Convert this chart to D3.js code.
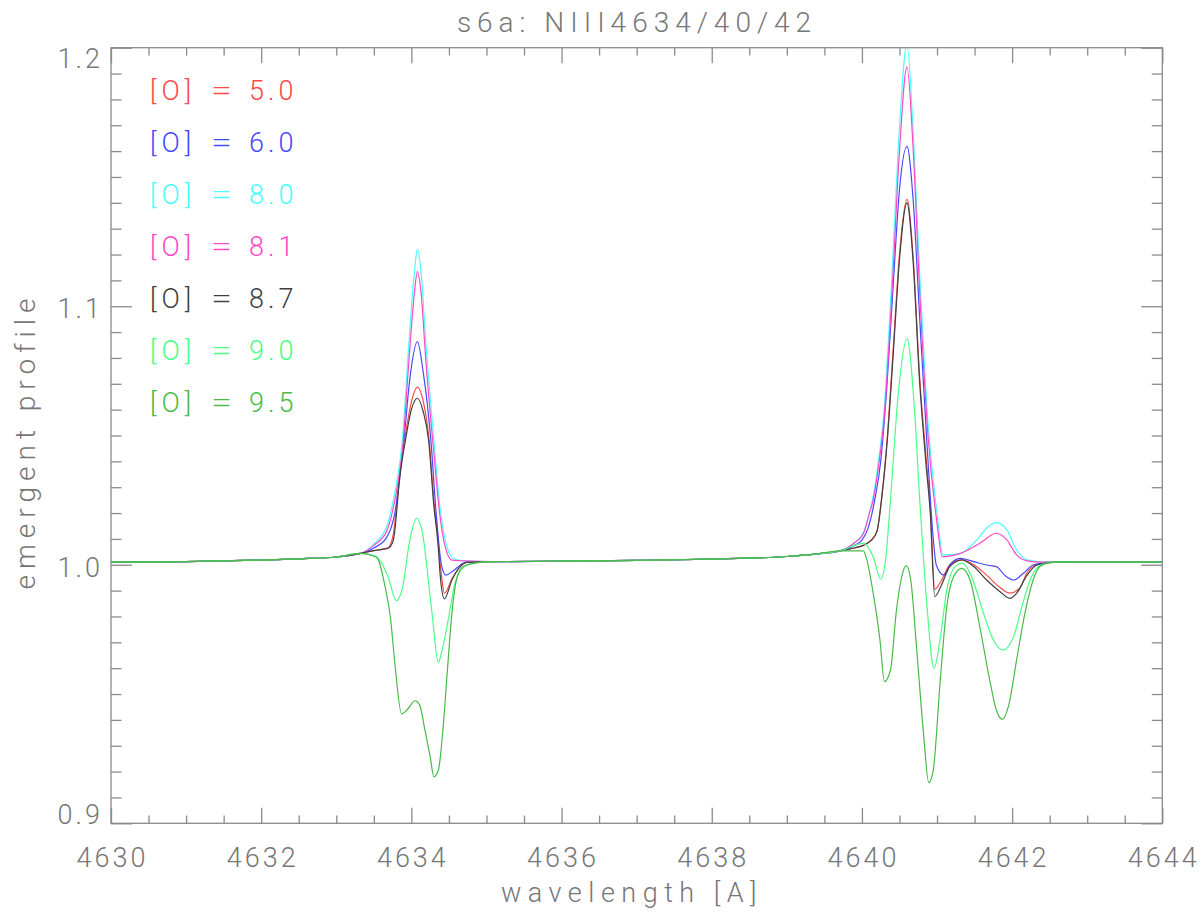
<!DOCTYPE html>
<html>
<head>
<meta charset="utf-8">
<script src="https://cdn.jsdelivr.net/npm/d3@7"></script>
<style>
  html, body { margin: 0; padding: 0; background: #fff; }
  svg text { font-family: Roboto, "Open Sans", sans-serif; font-weight: 300; fill: #777; }
</style>
</head>
<body>
<svg id="chart" width="1200" height="915"></svg>
<script>
// ---- data ----
const title = "s6a: NIII4634/40/42";
const xLabel = "wavelength [A]";
const yLabel = "emergent profile";
const xDomain = [4630, 4644];
const yDomain = [0.9, 1.2];
const xTickValues = [4630, 4632, 4634, 4636, 4638, 4640, 4642, 4644];
const yTickValues = [0.9, 1.0, 1.1, 1.2];
const legendLabels = ["5.0", "6.0", "8.0", "8.1", "8.7", "9.0", "9.5"];
const seriesColors = ["#ff4848", "#4848ff", "#48ffff", "#ff48c8", "#404040", "#48ff88", "#48bb48"];

const wingLeft = [[4630,1.001],[4631,1.0012],[4632,1.0018],[4632.5,1.0023],[4633,1.003],[4633.32,1.0044]];
const wingMid = [[4635.05,1.0012],[4636,1.0014],[4637,1.0017],[4638,1.0022],[4639,1.0032],[4639.4,1.0042],[4639.71,1.0054]];
const wingRight = [[4643,1.001],[4644,1.001]];

// [O] = 5.0
const line1_50 = [[4633.5,1.0055],[4633.69,1.0066],[4633.76,1.012],[4633.85,1.037],[4633.93,1.052],[4634.0,1.063],[4634.08,1.0687],[4634.16,1.063],[4634.23,1.05],[4634.30,1.025],[4634.35,1.011],[4634.40,0.996],[4634.44,0.989],[4634.54,0.9945],[4634.65,0.9993],[4634.74,1.0009]];
const line2_50 = [[4639.9,1.0065],[4640.02,1.0075],[4640.12,1.0095],[4640.2,1.013],[4640.26,1.025],[4640.34,1.05],[4640.42,1.085],[4640.5,1.12],[4640.6,1.1413],[4640.68,1.12],[4640.77,1.072],[4640.85,1.043],[4640.91,1.022],[4640.97,0.9905],[4641.06,0.994],[4641.17,1.0],[4641.33,1.0019],[4641.49,1.0],[4641.66,0.996],[4641.84,0.9912],[4641.97,0.989],[4642.10,0.9909],[4642.2,0.997],[4642.33,1.0],[4642.5,1.0008],[4642.64,1.0011]];
// [O] = 6.0
const line1_60 = [[4633.5,1.0065],[4633.67,1.0105],[4633.78,1.02],[4633.9,1.048],[4633.98,1.072],[4634.08,1.0863],[4634.16,1.074],[4634.26,1.048],[4634.33,1.02],[4634.40,1.0],[4634.46,0.996],[4634.55,0.9975],[4634.69,1.0006],[4634.8,1.0012]];
const line2_60 = [[4639.9,1.0075],[4640.0,1.0095],[4640.08,1.014],[4640.17,1.025],[4640.25,1.04],[4640.33,1.068],[4640.42,1.11],[4640.5,1.145],[4640.6,1.1618],[4640.68,1.142],[4640.77,1.095],[4640.87,1.045],[4640.95,1.01],[4640.99,0.9999],[4641.09,0.996],[4641.19,1.0006],[4641.31,1.0025],[4641.49,1.0012],[4641.66,0.9999],[4641.79,0.9993],[4641.90,0.996],[4642.02,0.9941],[4642.15,0.9967],[4642.28,0.9999],[4642.45,1.0008],[4642.64,1.0011]];
// [O] = 8.0
const line1_80 = [[4633.5,1.008],[4633.67,1.0147],[4633.78,1.028],[4633.88,1.048],[4633.97,1.087],[4634.04,1.113],[4634.08,1.122],[4634.13,1.113],[4634.19,1.087],[4634.30,1.048],[4634.38,1.0225],[4634.45,1.0096],[4634.56,1.0024],[4634.7,1.0015]];
const line2_80 = [[4639.9,1.0085],[4640.02,1.0125],[4640.08,1.018],[4640.14,1.025],[4640.22,1.04],[4640.29,1.058],[4640.40,1.112],[4640.5,1.169],[4640.6,1.2015],[4640.68,1.169],[4640.77,1.112],[4640.88,1.055],[4641.0,1.02],[4641.08,1.0038],[4641.31,1.0044],[4641.53,1.0096],[4641.68,1.0147],[4641.79,1.0163],[4641.93,1.0135],[4642.06,1.0057],[4642.2,1.0019],[4642.4,1.0011],[4642.64,1.0011]];
// [O] = 8.1
const line1_81 = [[4633.5,1.0075],[4633.67,1.013],[4633.78,1.025],[4633.88,1.044],[4633.97,1.08],[4634.04,1.105],[4634.08,1.1134],[4634.13,1.105],[4634.19,1.08],[4634.30,1.043],[4634.38,1.019],[4634.45,1.007],[4634.54,1.0018],[4634.7,1.0015]];
const line2_81 = [[4639.9,1.0085],[4640.02,1.012],[4640.1,1.02],[4640.15,1.025],[4640.22,1.038],[4640.29,1.055],[4640.40,1.105],[4640.5,1.16],[4640.6,1.1926],[4640.68,1.162],[4640.77,1.105],[4640.88,1.05],[4641.0,1.016],[4641.07,1.0031],[4641.31,1.0044],[4641.57,1.0083],[4641.79,1.0122],[4641.93,1.0096],[4642.06,1.0038],[4642.2,1.0015],[4642.4,1.001],[4642.64,1.0011]];
// [O] = 8.7
const line1_87 = [[4633.5,1.0055],[4633.69,1.0064],[4633.76,1.0096],[4633.85,1.035],[4633.92,1.048],[4634.0,1.06],[4634.08,1.0644],[4634.16,1.059],[4634.23,1.048],[4634.30,1.0225],[4634.35,1.0096],[4634.39,0.994],[4634.44,0.9868],[4634.54,0.9941],[4634.65,0.9993],[4634.74,1.0009]];
const line2_87 = [[4639.9,1.0065],[4640.02,1.0075],[4640.12,1.0093],[4640.2,1.0128],[4640.26,1.025],[4640.34,1.049],[4640.42,1.083],[4640.5,1.118],[4640.6,1.140],[4640.68,1.118],[4640.77,1.07],[4640.85,1.04],[4640.91,1.02],[4640.97,0.9877],[4641.06,0.9922],[4641.17,0.9993],[4641.33,1.0019],[4641.49,0.9993],[4641.66,0.9941],[4641.84,0.9896],[4641.97,0.987],[4642.06,0.989],[4642.20,0.996],[4642.33,0.9999],[4642.5,1.0008],[4642.64,1.0011]];
// [O] = 9.0
const line1_90 = [[4633.52,1.0034],[4633.56,1.0025],[4633.69,0.9954],[4633.80,0.9861],[4633.88,0.9909],[4633.98,1.0096],[4634.07,1.018],[4634.14,1.0135],[4634.27,0.9825],[4634.36,0.9621],[4634.40,0.9658],[4634.49,0.9786],[4634.58,0.9928],[4634.67,0.9983],[4634.78,1.0002]];
const line2_90 = [[4640.02,1.0083],[4640.15,1.0031],[4640.25,0.9945],[4640.31,1.0006],[4640.38,1.025],[4640.48,1.065],[4640.6,1.0875],[4640.70,1.06],[4640.77,1.025],[4640.86,0.9864],[4640.96,0.960],[4641.04,0.9709],[4641.13,0.9903],[4641.24,0.9993],[4641.34,1.0006],[4641.46,0.9954],[4641.62,0.9812],[4641.75,0.9709],[4641.88,0.967],[4642.02,0.9722],[4642.13,0.9838],[4642.24,0.9941],[4642.35,0.9993],[4642.5,1.0008],[4642.64,1.0011]];
// [O] = 9.5
const line1_95 = [[4633.52,1.0031],[4633.56,1.0019],[4633.65,0.9915],[4633.72,0.9799],[4633.78,0.9619],[4633.87,0.9423],[4633.94,0.9438],[4634.05,0.9474],[4634.11,0.9458],[4634.18,0.9361],[4634.25,0.9258],[4634.30,0.918],[4634.36,0.9206],[4634.42,0.9361],[4634.48,0.9593],[4634.54,0.9812],[4634.60,0.9941],[4634.69,0.9993],[4634.83,1.0006]];
const line2_95 = [[4640.02,1.0054],[4640.06,1.0025],[4640.15,0.989],[4640.24,0.9709],[4640.30,0.9548],[4640.38,0.9593],[4640.46,0.9825],[4640.53,0.9954],[4640.59,0.9997],[4640.65,0.9941],[4640.73,0.967],[4640.82,0.9348],[4640.89,0.9157],[4640.95,0.9206],[4641.04,0.9542],[4641.13,0.9838],[4641.22,0.9954],[4641.33,0.9986],[4641.44,0.9941],[4641.57,0.976],[4641.71,0.9542],[4641.79,0.9438],[4641.87,0.9402],[4641.95,0.9451],[4642.06,0.9632],[4642.17,0.9812],[4642.28,0.9941],[4642.37,0.9993],[4642.5,1.0008],[4642.64,1.0011]];

const seriesParts = [
  [line1_50, line2_50], [line1_60, line2_60], [line1_80, line2_80], [line1_81, line2_81],
  [line1_87, line2_87], [line1_90, line2_90], [line1_95, line2_95]
];

// ---- drawing ----
const svg = d3.select("#chart");
const M = { left: 111, right: 1162.3, top: 47.7, bottom: 823.3 };
const x = d3.scaleLinear().domain(xDomain).range([M.left, M.right]);
const y = d3.scaleLinear().domain(yDomain).range([M.bottom, M.top]);

svg.append("defs").append("clipPath").attr("id", "clip")
  .append("rect").attr("x", M.left).attr("y", M.top)
  .attr("width", M.right - M.left).attr("height", M.bottom - M.top);

const line = d3.line().x(d => x(d[0])).y(d => y(d[1])).curve(d3.curveMonotoneX);
const gLines = svg.append("g").attr("clip-path", "url(#clip)");
seriesParts.forEach((parts, i) => {
  const pts = [].concat(wingLeft, parts[0], wingMid, parts[1], wingRight);
  gLines.append("path").datum(pts)
    .attr("d", line).attr("fill", "none")
    .attr("stroke", seriesColors[i]).attr("stroke-width", 1.2)
    .attr("stroke-linejoin", "round");
});

// axes with IDL-style inward ticks on all four sides
const axisColor = "#8a8a8a";
const W = M.right - M.left, H = M.bottom - M.top;
const xMajLen = 0.02 * H, yMajLen = 0.02 * W;
const xMinor = d3.range(xDomain[0], xDomain[1] + 1e-9, 0.5);
const yMinor = d3.range(0, 31).map(k => yDomain[0] + k * 0.01);
const isXMaj = v => Math.abs(v / 2 - Math.round(v / 2)) < 1e-6;
const isYMaj = v => Math.abs(v * 10 - Math.round(v * 10)) < 1e-6;

const gAx = svg.append("g").attr("stroke", axisColor).attr("stroke-width", 1.3).attr("fill", "none");
gAx.append("rect").attr("x", M.left).attr("y", M.top).attr("width", W).attr("height", H);

const gb = svg.append("g").attr("transform", `translate(0,${M.bottom})`).call(d3.axisTop(x).tickValues(xMinor).tickFormat("").tickSize(0));
gb.select(".domain").remove();
gb.selectAll(".tick line").attr("stroke", axisColor).attr("stroke-width", 1.3)
  .attr("y2", d => -(isXMaj(d) ? xMajLen : xMajLen / 2));
const gt = svg.append("g").attr("transform", `translate(0,${M.top})`).call(d3.axisBottom(x).tickValues(xMinor).tickFormat("").tickSize(0));
gt.select(".domain").remove();
gt.selectAll(".tick line").attr("stroke", axisColor).attr("stroke-width", 1.3)
  .attr("y2", d => (isXMaj(d) ? xMajLen : xMajLen / 2));

const gl = svg.append("g").attr("transform", `translate(${M.left},0)`).call(d3.axisRight(y).tickValues(yMinor).tickFormat("").tickSize(0));
gl.select(".domain").remove();
gl.selectAll(".tick line").attr("stroke", axisColor).attr("stroke-width", 1.3)
  .attr("x2", d => (isYMaj(d) ? yMajLen : yMajLen / 2));
const gr = svg.append("g").attr("transform", `translate(${M.right},0)`).call(d3.axisLeft(y).tickValues(yMinor).tickFormat("").tickSize(0));
gr.select(".domain").remove();
gr.selectAll(".tick line").attr("stroke", axisColor).attr("stroke-width", 1.3)
  .attr("x2", d => -(isYMaj(d) ? yMajLen : yMajLen / 2));

// tick labels
svg.append("g").selectAll("text").data(xTickValues).join("text")
  .attr("x", d => x(d) + 1.5).attr("y", 867).attr("text-anchor", "middle")
  .attr("font-size", 27).attr("letter-spacing", 3).text(d => d);
const yLabelOffset = d => d === yDomain[1] ? 20 : (d === yDomain[0] ? 1 : 12);
svg.append("g").selectAll("text").data(yTickValues).join("text")
  .attr("x", 103).attr("y", d => y(d) + yLabelOffset(d)).attr("text-anchor", "end")
  .attr("font-size", 27).attr("letter-spacing", 3).text(d => d.toFixed(1));

// titles
svg.append("text").attr("x", 637).attr("y", 32).attr("text-anchor", "middle")
  .attr("font-size", 28).attr("letter-spacing", 6).text(title);
svg.append("text").attr("x", 632).attr("y", 902).attr("text-anchor", "middle")
  .attr("font-size", 27).attr("letter-spacing", 6.5).text(xLabel);
svg.append("text").attr("transform", "translate(35,441) rotate(-90)")
  .attr("text-anchor", "middle").attr("font-size", 28).attr("letter-spacing", 6).text(yLabel);

// legend
const gLeg = svg.append("g");
legendLabels.forEach((lab, i) => {
  const by = 100 + i * 52;
  const c = seriesColors[i];
  gLeg.append("text").attr("x", 150).attr("y", by).attr("font-size", 27).attr("letter-spacing", 5).style("fill", c).text("[O]");
  gLeg.append("text").attr("x", 211).attr("y", by).attr("font-size", 27)
    .attr("transform", `translate(211,0) scale(1.4,1) translate(-211,0)`).style("fill", c).text("=");
  gLeg.append("text").attr("x", 249).attr("y", by).attr("font-size", 27).attr("letter-spacing", 4).style("fill", c).text(lab);
});
</script>
</body>
</html>
